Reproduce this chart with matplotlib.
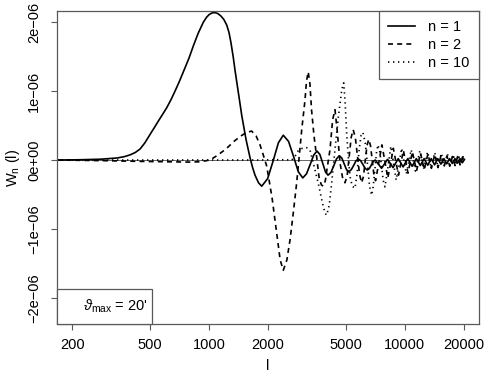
import numpy as np
import matplotlib
matplotlib.use("Agg")
import matplotlib.pyplot as plt
from matplotlib.patches import Rectangle
from matplotlib.ticker import NullLocator

plt.rcParams['font.family'] = ['Liberation Sans', 'DejaVu Sans']
plt.rcParams['mathtext.fontset'] = 'custom'
plt.rcParams['mathtext.rm'] = 'Liberation Sans'
plt.rcParams['mathtext.it'] = 'Liberation Sans:italic'

# W_n(l) values are read in units of 1e-6
scale = 1e-6

# n = 1
l_n1 = [167, 220, 280, 340, 370, 395, 420, 444, 470, 499, 525, 549, 578, 608, 640, 670,
        705, 739, 790, 832, 880, 935, 970, 1000, 1035, 1073, 1110, 1150, 1190, 1231,
        1265, 1295, 1330, 1358, 1417, 1469, 1545, 1621, 1670, 1718, 1790, 1859,
        1993, 2128, 2262, 2396, 2550, 2705, 2859, 3013, 3150, 3288, 3425, 3563,
        3687, 3810, 3934, 4057, 4201, 4345, 4489, 4633, 4770, 4906, 5043, 5180,
        5334, 5488, 5643, 5797, 5958, 6118, 6279, 6440, 6597, 6755, 6912, 7070,
        7345, 7620, 7895, 8170, 8445, 8720, 8995, 9270, 9545, 9820, 10095, 10370,
        10645, 10920, 11195, 11470, 11745, 12020, 12570, 13120, 13670, 14220,
        14770, 15320, 15870, 16420, 16970, 17520, 18070, 18620, 19170, 19720, 20200]
w_n1 = [0.0, 0.004, 0.012, 0.03, 0.05, 0.075, 0.11, 0.16, 0.25, 0.37, 0.47, 0.56, 0.66, 0.76, 0.88, 1.0,
        1.14, 1.28, 1.48, 1.66, 1.84, 2.0, 2.07, 2.11, 2.135, 2.14, 2.125, 2.09, 2.04, 1.96,
        1.85, 1.70, 1.49, 1.30, 0.95, 0.65, 0.30, 0.03, -0.11, -0.22, -0.33, -0.38,
        -0.27, -0.01, 0.25, 0.36, 0.27, 0.05, -0.17, -0.26, -0.20, -0.065, 0.07, 0.13,
        0.08, -0.045, -0.17, -0.22, -0.18, -0.08, 0.02, 0.06, 0.03, -0.055, -0.14, -0.17,
        -0.14, -0.078, -0.01, 0.015, -0.01, -0.065, -0.12, -0.145, -0.124, -0.072, -0.021, 0.0,
        -0.06, -0.12, -0.055, 0.01, -0.05, -0.11, -0.045, 0.02, -0.04, -0.10, -0.04, 0.02,
        -0.035, -0.09, -0.035, 0.02, -0.03, -0.08, 0.02, -0.075, 0.02, -0.07,
        0.02, -0.06, 0.02, -0.055, 0.02, -0.05, 0.02, -0.045, 0.02, -0.04, 0.01]

# n = 2
l_n2 = [167, 300, 450, 600, 800, 900, 1012, 1120, 1231, 1340, 1440, 1550, 1652,
        1740, 1822, 1900, 1972, 2100, 2217, 2310, 2396, 2500, 2594, 2700, 2805,
        2890, 2977, 3094, 3150, 3214, 3280, 3341, 3440, 3547, 3650, 3750, 3838,
        3930, 4000, 4152, 4281, 4403, 4530, 4672, 4810, 4954, 5080, 5205, 5330,
        5456, 5600, 5740, 5880, 6023, 6155, 6287, 6418, 6550, 6690, 6825, 6960,
        7100, 7375, 7650, 7925, 8200, 8475, 8750, 9025, 9300, 9575, 9850, 10400,
        10950, 11500, 12050, 12600, 13150, 13700, 14250, 14800, 15350, 15900,
        16450, 17000, 17550, 18100, 18650, 19200, 19750, 20200]
w_n2 = [0.0, -0.01, -0.02, -0.025, -0.03, -0.025, 0.0, 0.08, 0.17, 0.27, 0.34, 0.40, 0.42,
        0.35, 0.22, 0.06, -0.09, -0.55, -1.06, -1.45, -1.60, -1.45, -1.16, -0.75, -0.33,
        0.05, 0.44, 0.87, 1.15, 1.28, 1.10, 0.73, 0.35, 0.05, -0.25, -0.36, -0.38,
        -0.30, -0.15, 0.15, 0.58, 0.73, 0.40, -0.04, -0.25, -0.33, -0.23, 0.05, 0.33,
        0.44, 0.32, 0.05, -0.21, -0.33, -0.24, -0.01, 0.21, 0.30, 0.21, 0.0, -0.21,
        -0.30, -0.04, 0.22, -0.02, -0.26, -0.05, 0.17, -0.03, -0.22, -0.04, 0.14, -0.19,
        0.12, -0.16, 0.10, -0.14, 0.09, -0.12, 0.08, -0.11, 0.07, -0.10,
        0.06, -0.09, 0.05, -0.08, 0.05, -0.07, 0.04, -0.03]

# n = 10
l_n10 = [167, 1000, 1800, 2300, 2650, 2760, 2860, 3000, 3150, 3281, 3450, 3618,
         3770, 3914, 3994, 4120, 4236, 4403, 4585, 4769, 4880, 4960, 5052, 5150,
         5254, 5400, 5572, 5710, 5850, 5990, 6120, 6285, 6450, 6615, 6780, 6910,
         7040, 7170, 7305, 7460, 7620, 7775, 7930, 8215, 8500, 8775, 9050, 9350,
         9650, 9925, 10200, 10800, 11350, 11950, 12500, 13100, 13650, 14250, 14800,
         15400, 15950, 16550, 17100, 17700, 18250, 18850, 19400, 19950, 20200]
w_n10 = [0.0, 0.0, 0.0, 0.005, 0.0, 0.06, 0.14, 0.17, 0.18, 0.145, -0.1, -0.34,
         -0.58, -0.77, -0.80, -0.65, -0.33, 0.15, 0.63, 1.02, 1.12, 0.85, 0.39, 0.05,
         -0.24, -0.38, -0.41, -0.2, 0.15, 0.36, 0.40, 0.25, -0.05, -0.38, -0.51, -0.38,
         -0.15, 0.1, 0.22, 0.12, -0.09, -0.30, -0.39, -0.1, 0.20, -0.05, -0.29, -0.06,
         0.17, -0.02, -0.20, 0.15, -0.16, 0.13, -0.13, 0.12, -0.11, 0.11, -0.10,
         0.10, -0.09, 0.09, -0.08, 0.08, -0.07, 0.07, -0.06, 0.06, 0.0]

xticks = [200, 500, 1000, 2000, 5000, 10000, 20000]
yticks = [-2e-6, -1e-6, 0, 1e-6, 2e-6]
ytick_labels = ["\u22122e\u221206", "\u22121e\u221206", "0e+00", "1e\u221206", "2e\u221206"]

fig = plt.figure(figsize=(4.91, 3.77), dpi=100)
ax = fig.add_axes([57/491, 53/377, 422/491, 313/377])

frame_col = '0.35'
ax.plot([l_n1[0], l_n1[-1]], [0, 0], color='0.3', lw=0.6)
ax.plot(l_n1, np.array(w_n1) * scale, color='black', lw=1.2, label='n = 1')
ax.plot(l_n2, np.array(w_n2) * scale, color='black', lw=1.2, linestyle=(0, (3, 2.5)), label='n = 2')
ax.plot(l_n10, np.array(w_n10) * scale, color='black', lw=1.2, linestyle=(0, (0.8, 2.2)), label='n = 10')

ax.set_xscale('log')
ax.set_xlim(167, 23990)
ax.set_ylim(-2.38e-6, 2.163e-6)
ax.set_xticks(xticks)
ax.set_xticklabels([str(t) for t in xticks], fontsize=10.5)
ax.xaxis.set_minor_locator(NullLocator())
ax.set_yticks(yticks)
ax.set_yticklabels(ytick_labels, rotation=90, va='center', fontsize=10.5)
ax.tick_params(axis='x', length=4.3, width=0.8, pad=6, color=frame_col)
ax.tick_params(axis='y', length=4.3, width=0.8, pad=7, color=frame_col)
for s in ax.spines.values():
    s.set_color(frame_col)
    s.set_linewidth(0.9)

ax.set_xlabel("l", fontsize=10.5)
ax.xaxis.set_label_coords(0.5, -0.112)
ax.set_ylabel(r"W$_{\mathrm{n}}$ (l)", fontsize=10.5)
ax.yaxis.set_label_coords(-0.083, 0.5)

leg = ax.legend(loc='upper right', borderaxespad=0, fontsize=10.5, handlelength=1.85,
                handletextpad=0.9, borderpad=0.65, labelspacing=0.25, fancybox=False,
                framealpha=1, edgecolor=frame_col)
leg.get_frame().set_linewidth(0.9)

ax.add_patch(Rectangle((0, 0), 0.225, 0.112, transform=ax.transAxes, facecolor='white',
                       edgecolor=frame_col, lw=0.9, clip_on=False, zorder=5))
ax.text(0.061, 0.056, r"$\vartheta_{\mathrm{max}}$ = 20'", transform=ax.transAxes,
        fontsize=10.5, va='center', ha='left', zorder=6)

fig.savefig("out.png", dpi=100)
